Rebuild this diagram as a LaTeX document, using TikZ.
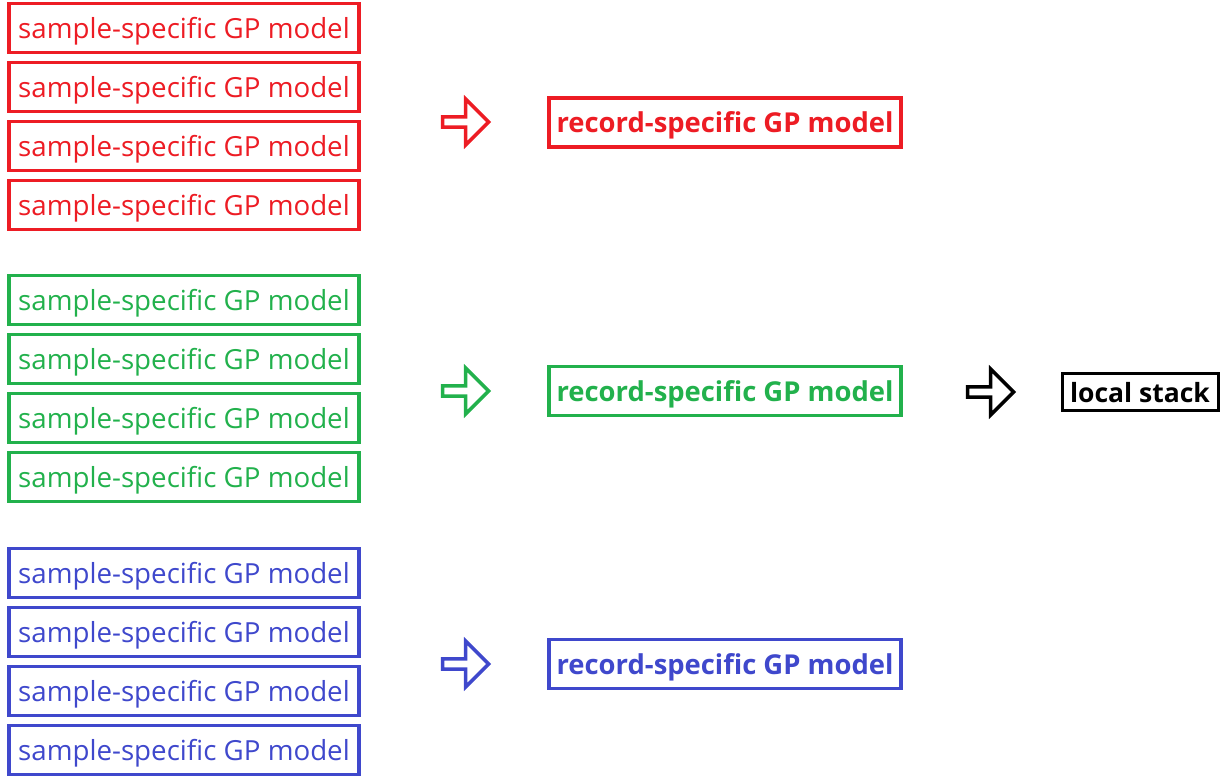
\documentclass[tikz,border=0pt]{standalone}
\usepackage{fontspec}
\setmainfont{Open Sans}
\usepackage{xcolor}
\usetikzlibrary{shapes,arrows,positioning,calc}

\definecolor{gpred}{RGB}{237,28,36}
\definecolor{gpgreen}{RGB}{34,177,76}
\definecolor{gpblue}{RGB}{63,72,204}

\tikzset{
  samplebox/.style={draw, line width=3.5pt, minimum width=350pt, minimum height=49pt,
    inner sep=0pt, text depth=0pt, font=\fontsize{27.7}{32}\selectfont},
  recordbox/.style={draw, line width=3.5pt, minimum width=352pt, minimum height=49pt,
    inner sep=0pt, text depth=0pt, font=\fontsize{27.4}{32}\selectfont\bfseries},
  blockarrow/.style={draw, single arrow, line width=3.5pt, minimum height=46pt,
    minimum width=46pt, single arrow head extend=6pt, inner sep=0pt}
}

\begin{document}
\begin{tikzpicture}[x=1pt,y=-1pt]
  \useasboundingbox (0,0) rectangle (1229,780);
  % 三组样本模型
  \foreach \grp/\col/\top in {r/gpred/28,g/gpgreen/300,b/gpblue/573} {
    \foreach \i in {0,1,2,3} {
      \node[samplebox,\col] (s\grp\i) at (184,\top+59*\i) {sample-specific GP model};
    }
  }
  % 记录模型
  \node[recordbox,gpred] (rr) at (725,122.5) {record-specific GP model};
  \node[recordbox,gpgreen] (rg) at (725,391) {record-specific GP model};
  \node[recordbox,gpblue] (rb) at (725,664) {record-specific GP model};
  \node[draw, line width=3pt, minimum width=156pt, minimum height=37pt, inner sep=0pt,
    text depth=0pt, font=\fontsize{26.5}{30}\selectfont\bfseries] (ls) at (1140,392) {local stack};
  % 箭头
  \node[blockarrow,gpred] (ar) at (463,122) {};
  \node[blockarrow,gpgreen] (ag) at (463,391) {};
  \node[blockarrow,gpblue] (ab) at (463,664) {};
  \node[blockarrow,black] (ak) at (988,392) {};
\end{tikzpicture}
\end{document}
